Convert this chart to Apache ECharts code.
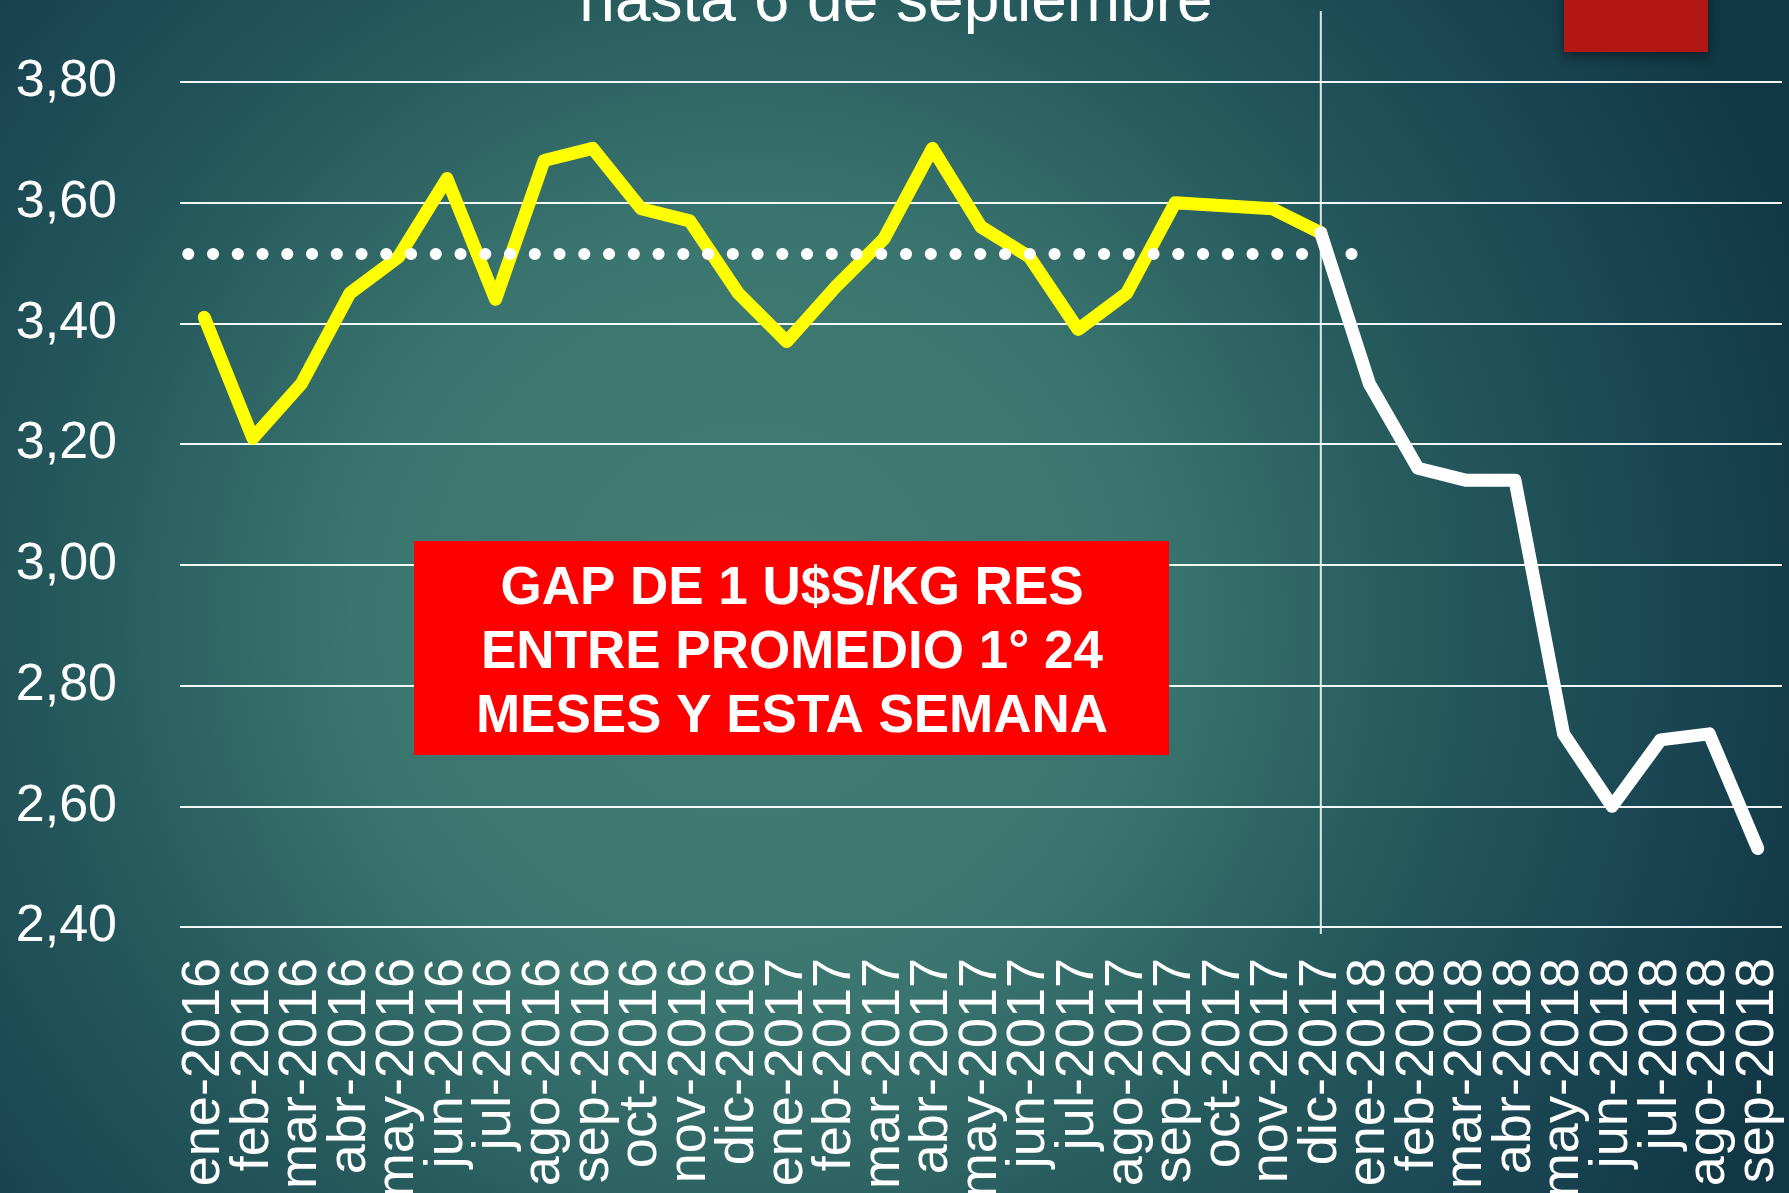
<!DOCTYPE html>
<html>
<head>
<meta charset="utf-8">
<script src="https://cdn.jsdelivr.net/npm/echarts@6/dist/echarts.min.js"></script>
<style>
  html, body { margin: 0; padding: 0; background: #1c4a55; }
  #chart { width: 1789px; height: 1193px; }
</style>
</head>
<body>
<div id="chart"></div>
<script>
// meses del eje x
const meses = [
  'ene-2016', 'feb-2016', 'mar-2016', 'abr-2016', 'may-2016', 'jun-2016',
  'jul-2016', 'ago-2016', 'sep-2016', 'oct-2016', 'nov-2016', 'dic-2016',
  'ene-2017', 'feb-2017', 'mar-2017', 'abr-2017', 'may-2017', 'jun-2017',
  'jul-2017', 'ago-2017', 'sep-2017', 'oct-2017', 'nov-2017', 'dic-2017',
  'ene-2018', 'feb-2018', 'mar-2018', 'abr-2018', 'may-2018', 'jun-2018',
  'jul-2018', 'ago-2018', 'sep-2018'
]

// primeros 24 meses (amarillo): ene-2016 .. dic-2017
const precios24 = [
  3.41, 3.21, 3.30, 3.45, 3.51, 3.64, 3.44, 3.67, 3.69, 3.59, 3.57, 3.45,
  3.37, 3.46, 3.54, 3.69, 3.56, 3.51, 3.39, 3.45, 3.60, 3.595, 3.59, 3.55
]

// tramo reciente (blanco): dic-2017 .. sep-2018
const preciosRecientes = [3.55, 3.30, 3.16, 3.14, 3.14, 2.72, 2.60, 2.71, 2.72, 2.53]

// promedio de los primeros 24 meses (linea de puntos)
const promedio24 = 3.515
const promedioDesde = -0.33
const promedioHasta = 23.7

// eje y
const yMin = 2.4
const yMax = 3.8
const yPaso = 0.2

const titulo = 'hasta 6 de septiembre'
const textoCaja = 'GAP DE 1 U$S/KG RES\nENTRE PROMEDIO 1° 24\nMESES Y ESTA SEMANA'
const mesCorte = 'dic-2017'

const inicioReciente = meses.indexOf(mesCorte)
const serieAmarilla = meses.map((m, i) => (i < precios24.length ? precios24[i] : '-'))
const serieBlanca = meses.map((m, i) => (i >= inicioReciente ? preciosRecientes[i - inicioReciente] : '-'))

const FONT = '"Liberation Sans", Arial, sans-serif'

const chart = echarts.init(document.getElementById('chart'), null, { renderer: 'canvas' })

const option = {
  animation: false,
  backgroundColor: {
    type: 'radial',
    x: 0.42,
    y: 0.52,
    r: 0.95,
    colorStops: [
      { offset: 0, color: '#437e74' },
      { offset: 0.35, color: '#3a756f' },
      { offset: 0.6, color: '#25595c' },
      { offset: 0.8, color: '#1a4753' },
      { offset: 1, color: '#113644' },
    ],
  },
  grid: {
    left: 180,
    right: 7,
    top: 82,
    bottom: 266,
    outerBoundsMode: 'none',
  },
  xAxis: [
    {
      type: 'category',
      data: meses,
      boundaryGap: true,
      axisLine: { show: false },
      axisTick: { show: false },
      axisLabel: {
        interval: 0,
        rotate: 90,
        margin: 31,
        color: '#ffffff',
        fontSize: 54,
        fontFamily: FONT,
      },
      splitLine: { show: false },
    },
    {
      // eje auxiliar para la linea del promedio
      type: 'value',
      min: -0.5,
      max: meses.length - 0.5,
      show: false,
    },
  ],
  yAxis: {
    type: 'value',
    min: yMin,
    max: yMax,
    interval: yPaso,
    axisLine: { show: false },
    axisTick: { show: false },
    axisLabel: {
      margin: 63,
      color: '#ffffff',
      fontSize: 52,
      fontFamily: FONT,
      formatter: (v) => v.toFixed(2).replace('.', ','),
    },
    splitLine: {
      lineStyle: { color: 'rgba(255,255,255,0.95)', width: 2 },
    },
  },
  series: [
    {
      name: 'primeros 24 meses',
      type: 'line',
      data: serieAmarilla,
      symbol: 'none',
      z: 3,
      lineStyle: { color: '#ffff00', width: 13, cap: 'round', join: 'round' },
    },
    {
      name: 'reciente',
      type: 'line',
      data: serieBlanca,
      symbol: 'none',
      z: 4,
      lineStyle: { color: '#ffffff', width: 13, cap: 'round', join: 'round' },
    },
    {
      name: 'promedio',
      type: 'line',
      xAxisIndex: 1,
      data: [[promedioDesde, promedio24], [promedioHasta, promedio24]],
      symbol: 'none',
      z: 5,
      lineStyle: { color: '#ffffff', width: 12, type: [0.1, 24.65], cap: 'round' },
    },
  ],
}

chart.setOption(option)

// decoraciones: linea vertical en el corte, titulo, recuadros
const xCorte = chart.convertToPixel({ xAxisIndex: 0 }, mesCorte)

chart.setOption({
  graphic: [
    {
      type: 'line',
      z: 2,
      shape: { x1: xCorte, y1: 11, x2: xCorte, y2: 934 },
      style: { stroke: 'rgba(255,255,255,0.85)', lineWidth: 2 },
    },
    {
      type: 'text',
      x: 896,
      y: 3,
      style: {
        text: titulo,
        fill: '#ffffff',
        font: '64px ' + FONT,
        textAlign: 'center',
        textVerticalAlign: 'middle',
      },
    },
    {
      type: 'rect',
      z: 10,
      shape: { x: 1564, y: -10, width: 144, height: 62 },
      style: {
        fill: '#b31714',
        shadowBlur: 10,
        shadowOffsetY: 4,
        shadowColor: 'rgba(0,0,0,0.45)',
      },
    },
    {
      type: 'rect',
      z: 10,
      shape: { x: 414, y: 541, width: 755, height: 214 },
      style: { fill: '#ff0000' },
    },
    {
      type: 'text',
      z: 11,
      x: 792,
      y: 653,
      style: {
        text: textoCaja,
        fill: '#ffffff',
        font: 'bold 53px ' + FONT,
        lineHeight: 64,
        textAlign: 'center',
        textVerticalAlign: 'middle',
      },
    },
  ],
})
</script>
</body>
</html>
